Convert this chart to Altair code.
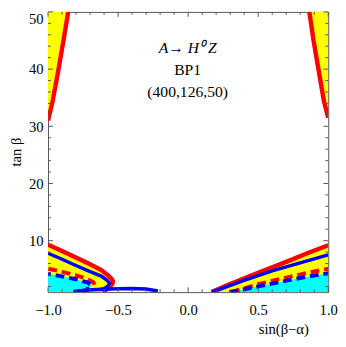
import altair as alt
import pandas as pd

# ---- curve data ----
# left lower region, given as x along tan(beta)
red_left_y = [1.0, 1.5, 2.0, 2.5, 2.9, 3.3, 4.0, 4.85, 6.0, 7.1, 8.2, 9.3]
red_left_x = [-0.61, -0.58, -0.555, -0.54, -0.537, -0.545, -0.575, -0.62, -0.71, -0.805, -0.9, -1.0]
blue_left_y = [1.45, 1.6, 2.1, 2.57, 3.1, 3.8, 4.6, 5.7, 6.75, 7.8]
blue_left_x = [-0.63, -0.60, -0.57, -0.56, -0.58, -0.62, -0.70, -0.805, -0.90, -1.0]
redd_left_y = [2.3, 2.7, 3.3, 3.95, 4.55, 5.1]
redd_left_x = [-0.67, -0.675, -0.72, -0.80, -0.90, -1.0]
blued_left_y = [1.0, 1.3, 1.8, 2.2, 2.7, 3.25, 3.75, 4.2]
blued_left_x = [-0.76, -0.74, -0.70, -0.69, -0.72, -0.80, -0.90, -1.0]
# blue arc along the bottom
blue_arc_x = [-0.82, -0.75, -0.68, -0.61, -0.5, -0.41, -0.3, -0.216]
blue_arc_y = [1.1, 1.3, 1.42, 1.5, 1.6, 1.65, 1.55, 1.2]
# right lower region
red_right_x = [0.167, 0.3, 0.5, 0.7, 0.85, 1.0]
red_right_y = [1.0, 2.4, 4.4, 6.3, 7.8, 9.2]
blue_right_x = [0.17, 0.4, 0.6, 0.8, 1.0]
blue_right_y = [1.0, 3.05, 4.7, 6.1, 7.5]
redd_right_x = [0.307, 0.5, 0.7, 0.85, 1.0]
redd_right_y = [1.0, 2.4, 3.55, 4.35, 5.1]
blued_right_x = [0.295, 0.5, 0.7, 0.85, 1.0]
blued_right_y = [1.0, 2.0, 3.0, 3.7, 4.3]
# upper corners
red_ul_y = [31.0, 34.4, 40.0, 45.0, 50.0]
red_ul_x = [-1.0, -0.967, -0.925, -0.89, -0.856]
red_ur_y = [31.5, 34.4, 40.0, 45.0, 50.0]
red_ur_x = [1.0, 0.969, 0.93, 0.895, 0.865]

# ticks
x_major = [-1.0, -0.5, 0.0, 0.5, 1.0]
x_minor = [-0.9, -0.8, -0.7, -0.6, -0.4, -0.3, -0.2, -0.1, 0.1, 0.2, 0.3, 0.4, 0.6, 0.7, 0.8, 0.9]
y_major = [10, 20, 30, 40, 50]
y_minor = [2, 4, 6, 8, 12, 14, 16, 18, 22, 24, 26, 28, 32, 34, 36, 38, 42, 44, 46, 48]

W, H = 287, 287
FONT = "Liberation Serif"
FRAME = "#555555"
FS = 15

xs = alt.Scale(domain=[-1, 1], nice=False, zero=False)
ys = alt.Scale(domain=[1, 50], nice=False, zero=False)

xaxis = alt.Axis(values=x_major, format=".1f", ticks=False, domain=False, grid=False,
                 labelFont=FONT, labelFontSize=FS, labelPadding=11, labelColor="black",
                 labelFlush=False, title="sin(β−α)", titleFont=FONT, titleFontSize=FS,
                 titleFontWeight="normal", titleColor="black", titleX=241, titleY=37,
                 titleBaseline="middle", titleAlign="center")
yaxis = alt.Axis(values=y_major, format="d", ticks=False, domain=False, grid=False,
                 labelFont=FONT, labelFontSize=FS, labelPadding=5, labelColor="black",
                 labelFlush=True, title="tan β", titleFont=FONT, titleFontSize=FS,
                 titleFontWeight="normal", titleColor="black", titleX=-33, titleY=143,
                 titleAngle=-90, titleBaseline="middle", titleAlign="center")


def X(f="x"):
    return alt.X(f, type="quantitative", scale=xs, axis=xaxis)


def Y(f="y"):
    return alt.Y(f, type="quantitative", scale=ys, axis=yaxis)


def df(xv, yv):
    return pd.DataFrame({"x": xv, "y": yv, "i": list(range(len(xv)))})


def hline(xv, yv, color, width, dash=None):
    kw = dict(color=color, strokeWidth=width, clip=True, strokeCap="butt")
    if dash:
        kw["strokeDash"] = dash
    return alt.Chart(df(xv, yv)).mark_line(**kw).encode(x=X(), y=Y(), order="i:Q")


def harea(xv, yv, color, edge):
    d = df(xv, yv)
    d["e"] = edge
    return alt.Chart(d).mark_area(orient="horizontal", color=color, opacity=1, clip=True).encode(
        y=Y(), x=X(), x2="e:Q")


def varea(xv, yv, color):
    d = df(xv, yv)
    d["b"] = 1.0
    return alt.Chart(d).mark_area(color=color, opacity=1, clip=True).encode(
        x=X(), y=Y(), y2="b:Q")


YEL, CYA, RED, BLU = "#ffff00", "#00ffff", "#ff0000", "#0000ff"

layers = [
    harea(red_left_x, red_left_y, YEL, -1.0),
    harea(red_ul_x, red_ul_y, YEL, -1.0),
    harea(red_ur_x, red_ur_y, YEL, 1.0),
    varea(red_right_x, red_right_y, YEL),
    harea(blued_left_x, blued_left_y, CYA, -1.0),
    varea(blued_right_x, blued_right_y, CYA),
    hline(red_left_x, red_left_y, RED, 4.5),
    hline(red_ul_x, red_ul_y, RED, 4.5),
    hline(red_ur_x, red_ur_y, RED, 4.5),
    hline(red_right_x, red_right_y, RED, 4.5),
    hline(redd_left_x, redd_left_y, RED, 4, [9, 5]),
    hline(redd_right_x, redd_right_y, RED, 4, [9, 5]),
    hline(blue_left_x, blue_left_y, BLU, 3.5),
    hline(blue_arc_x, blue_arc_y, BLU, 3.5),
    hline(blue_right_x, blue_right_y, BLU, 3.5),
    hline(blued_left_x, blued_left_y, BLU, 4, [9, 5]),
    hline(blued_right_x, blued_right_y, BLU, 4, [9, 5]),
]

# inside ticks on all four sides
for vals, ln in ((x_major, 5), (x_minor, 3)):
    d = pd.DataFrame({"x": vals})
    layers.append(alt.Chart(d).mark_rule(color=FRAME, strokeWidth=1).encode(
        x=X(), y=alt.value(H), y2=alt.value(H - ln)))
    layers.append(alt.Chart(d).mark_rule(color=FRAME, strokeWidth=1).encode(
        x=X(), y=alt.value(0), y2=alt.value(ln)))
for vals, ln in ((y_major, 5), (y_minor, 3)):
    d = pd.DataFrame({"y": vals})
    layers.append(alt.Chart(d).mark_rule(color=FRAME, strokeWidth=1).encode(
        y=Y(), x=alt.value(0), x2=alt.value(ln)))
    layers.append(alt.Chart(d).mark_rule(color=FRAME, strokeWidth=1).encode(
        y=Y(), x=alt.value(W), x2=alt.value(W - ln)))

one = pd.DataFrame({"a": [0]})
labels = [("A→ H⁰ Z", 37, "italic"), ("BP1", 60, "normal"), ("(400,126,50)", 82, "normal")]
for txt, py, st in labels:
    layers.append(alt.Chart(one).mark_text(text=txt, font=FONT, fontSize=16, fontStyle=st,
                                           color="black", align="center", baseline="middle")
                  .encode(x=alt.value(143), y=alt.value(py)))

chart = alt.layer(*layers).properties(
    width=W, height=H,
    autosize=alt.AutoSizeParams(type="none"),
    padding={"left": 41, "top": 0, "right": 10, "bottom": 45},
).configure_view(stroke=FRAME, strokeWidth=1)

chart.save("out.html", embed_options={"renderer": "svg", "actions": False})
